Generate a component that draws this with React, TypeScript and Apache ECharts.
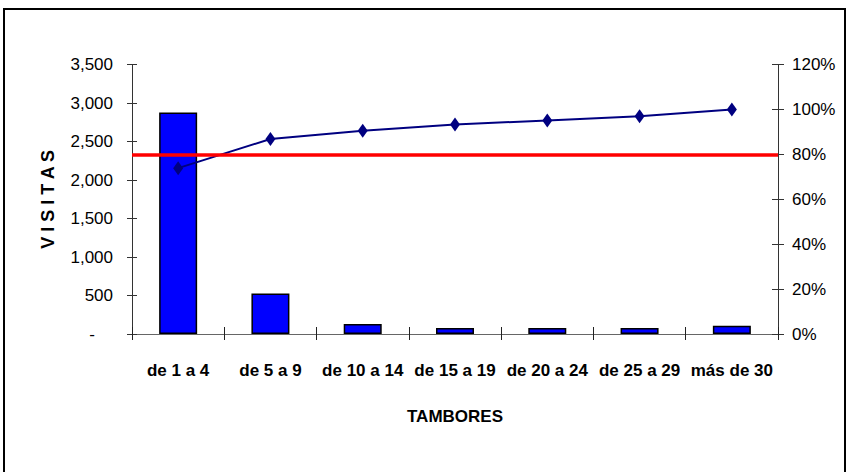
import React, { useEffect, useRef } from "react";
import * as echarts from "echarts";

const categories = ["de 1 a 4", "de 5 a 9", "de 10 a 14", "de 15 a 19", "de 20 a 24", "de 25 a 29", "más de 30"];
const visitas = [2880, 525, 130, 78, 78, 78, 108];
const acumulado = [73.9, 86.9, 90.6, 93.4, 95.1, 97.0, 100];
const limite = 80;
const leftMax = 3500;
const leftStep = 500;
const rightMax = 120;
const rightStep = 20;

const FONT = "'Liberation Sans Narrow', 'Arial Narrow', 'Liberation Sans', Arial, sans-serif";

export default function App() {
  const ref = useRef<HTMLDivElement>(null);
  useEffect(() => {
    if (!ref.current) return;
    const chart = echarts.init(ref.current, null, { renderer: "svg" });
    const grid = { left: 132, right: 71, top: 64.7, bottom: 138 };
    const leftLabel = (v: number) => (v === 0 ? "{d|-}" : v.toLocaleString("en-US"));
    chart.setOption({
      animation: false,
      backgroundColor: "#fff",
      grid,
      graphic: [
        {
          type: "rect",
          shape: { x: 4, y: 9, width: 841, height: 500 },
          style: { fill: "none", stroke: "#000", lineWidth: 2 },
          silent: true,
        },
      ],
      xAxis: [
        {
          type: "category",
          data: categories,
          boundaryGap: true,
          axisLine: { show: true, lineStyle: { color: "#666", width: 1 } },
          axisTick: { show: true, length: 6, lineStyle: { color: "#222" } },
          axisLabel: { fontFamily: FONT, fontSize: 17, fontWeight: "bold", color: "#000", margin: 28, interval: 0 },
          name: "TAMBORES",
          nameLocation: "middle",
          nameGap: 74,
          nameTextStyle: { fontFamily: FONT, fontSize: 17, fontWeight: "bold", color: "#000" },
          splitLine: { show: false },
        },
        {
          type: "category",
          data: categories,
          boundaryGap: true,
          position: "bottom",
          axisLine: { show: false },
          axisTick: { show: true, inside: true, length: 7, lineStyle: { color: "#222" } },
          axisLabel: { show: false },
          splitLine: { show: false },
        },
      ],
      yAxis: [
        {
          type: "value",
          min: 0,
          max: leftMax,
          interval: leftStep,
          position: "left",
          axisLine: { show: true, lineStyle: { color: "#333", width: 1 } },
          axisTick: { show: true, length: 5, lineStyle: { color: "#333" } },
          axisLabel: {
            fontFamily: FONT,
            fontSize: 17,
            color: "#000",
            margin: 19,
            formatter: leftLabel,
            rich: { d: { fontFamily: FONT, fontSize: 17, color: "#000", padding: [0, 18, 0, 0] } },
          },
          splitLine: { show: false },
          name: "V I S I T A S",
          nameLocation: "middle",
          nameRotate: 90,
          nameGap: 75,
          nameTextStyle: { fontFamily: FONT, fontSize: 18, fontWeight: "bold", color: "#000" },
        },
        {
          type: "value",
          min: 0,
          max: rightMax,
          interval: rightStep,
          position: "right",
          axisLine: { show: true, lineStyle: { color: "#333", width: 1 } },
          axisTick: { show: true, length: 6, lineStyle: { color: "#333" } },
          axisLabel: { fontFamily: FONT, fontSize: 17, color: "#000", margin: 14, formatter: "{value}%" },
          splitLine: { show: false },
        },
        {
          type: "value",
          min: 0,
          max: leftMax,
          interval: leftStep,
          position: "left",
          axisLine: { show: false },
          axisTick: { show: true, inside: true, length: 5, lineStyle: { color: "#333" } },
          axisLabel: { show: false },
          splitLine: { show: false },
        },
        {
          type: "value",
          min: 0,
          max: rightMax,
          interval: rightStep,
          position: "right",
          axisLine: { show: false },
          axisTick: { show: true, inside: true, length: 6, lineStyle: { color: "#333" } },
          axisLabel: { show: false },
          splitLine: { show: false },
        },
      ],
      series: [
        {
          type: "bar",
          data: visitas,
          xAxisIndex: 0,
          yAxisIndex: 0,
          barWidth: 38,
          itemStyle: { color: "#0000FF", borderColor: "#000", borderWidth: 1.5 },
          z: 2,
        },
        {
          type: "line",
          data: acumulado,
          xAxisIndex: 0,
          yAxisIndex: 1,
          symbol: "diamond",
          symbolSize: [10, 14],
          lineStyle: { color: "#000080", width: 2 },
          itemStyle: { color: "#000080" },
          z: 3,
        },
        {
          type: "line",
          data: categories.map(() => limite),
          xAxisIndex: 0,
          yAxisIndex: 1,
          showSymbol: false,
          lineStyle: { opacity: 0 },
          markLine: {
            silent: true,
            symbol: "none",
            label: { show: false },
            lineStyle: { color: "#FF0000", width: 3.5, type: "solid" },
            data: [{ yAxis: limite }],
          },
          z: 4,
        },
      ],
    });
    return () => chart.dispose();
  }, []);
  return (
    <div
      ref={ref}
      style={{ position: "fixed", left: 0, top: 0, width: 849, height: 472, background: "#fff" }}
    />
  );
}
